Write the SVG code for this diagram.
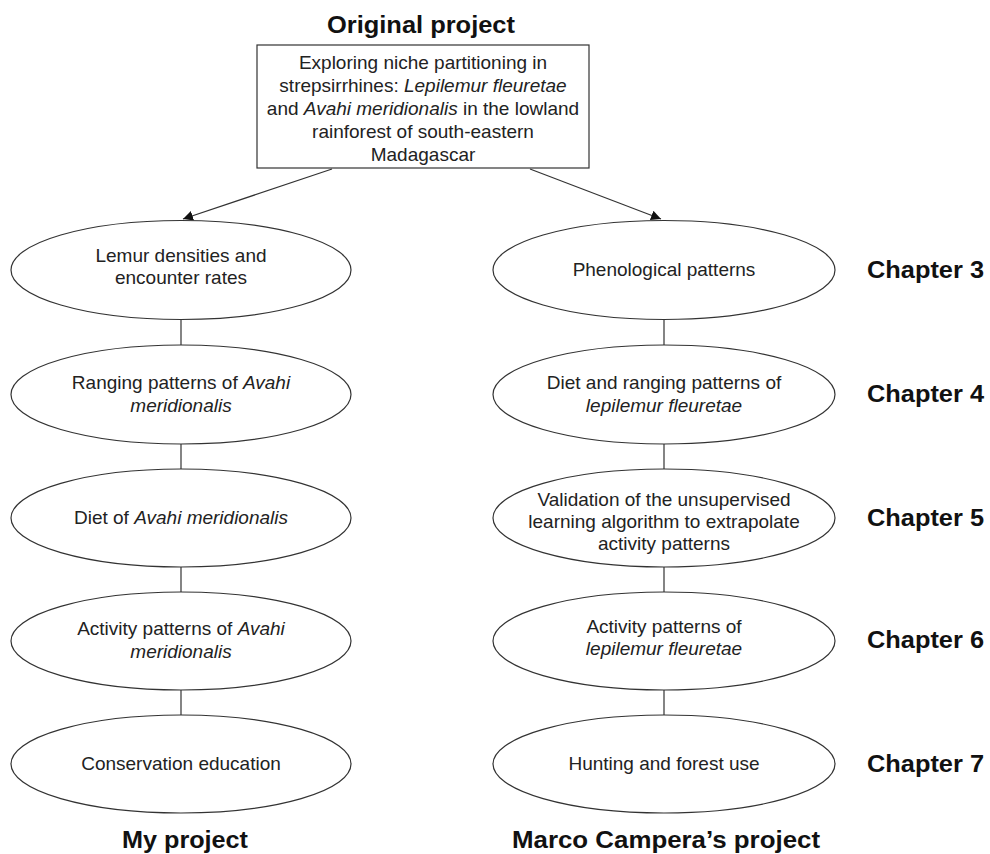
<svg xmlns="http://www.w3.org/2000/svg" width="990" height="854" viewBox="0 0 990 854">
<style>
text{font-family:"Liberation Sans",Arial,sans-serif;fill:#111}
.t{font-size:19px;text-anchor:middle;fill:#222}
.h{font-size:23px;font-weight:bold}
.i{font-style:italic}
.n{fill:#fff;stroke:#333;stroke-width:1.2}
.c{stroke:#333;stroke-width:1.2;fill:none}
</style>
<defs>
<marker id="ah" viewBox="0 0 10 10" refX="10" refY="5" markerWidth="10" markerHeight="10" markerUnits="userSpaceOnUse" orient="auto">
<path d="M0,0 L10,5 L0,10 z" fill="#111"/>
</marker>
</defs>
<rect width="990" height="854" fill="#fff"/>
<g id="connectors">
<line class="c" x1="332" y1="169" x2="183" y2="219" marker-end="url(#ah)"/>
<line class="c" x1="530" y1="169" x2="661" y2="219" marker-end="url(#ah)"/>
<line class="c" x1="181" y1="320" x2="181" y2="345"/>
<line class="c" x1="181" y1="444" x2="181" y2="469"/>
<line class="c" x1="181" y1="567" x2="181" y2="592"/>
<line class="c" x1="181" y1="690" x2="181" y2="715"/>
<line class="c" x1="664" y1="320" x2="664" y2="345"/>
<line class="c" x1="664" y1="444" x2="664" y2="469"/>
<line class="c" x1="664" y1="567" x2="664" y2="592"/>
<line class="c" x1="664" y1="690" x2="664" y2="715"/>
</g>
<g id="title"><text class="h" x="421" y="33" text-anchor="middle" textLength="188" lengthAdjust="spacingAndGlyphs">Original project</text></g>
<g id="original">
<rect class="n" x="257" y="45" width="332" height="123"/>
<text class="t" x="423" y="69">Exploring niche partitioning in</text>
<text class="t" x="423" y="92">strepsirrhines: <tspan class="i">Lepilemur fleuretae</tspan></text>
<text class="t" x="423" y="115">and <tspan class="i">Avahi meridionalis</tspan> in the lowland</text>
<text class="t" x="423" y="138">rainforest of south-eastern</text>
<text class="t" x="423" y="161">Madagascar</text>
</g>
<g id="l1"><ellipse class="n" cx="181" cy="270" rx="170" ry="49.5"/>
<text class="t" x="181" y="262">Lemur densities and</text><text class="t" x="181" y="284">encounter rates</text></g>
<g id="l2"><ellipse class="n" cx="181" cy="394.5" rx="170" ry="49.5"/>
<text class="t" x="181" y="389">Ranging patterns of <tspan class="i">Avahi</tspan></text><text class="t i" x="181" y="412">meridionalis</text></g>
<g id="l3"><ellipse class="n" cx="181" cy="518" rx="170" ry="49"/>
<text class="t" x="181" y="524">Diet of <tspan class="i">Avahi meridionalis</tspan></text></g>
<g id="l4"><ellipse class="n" cx="181" cy="641" rx="170" ry="49"/>
<text class="t" x="181" y="635">Activity patterns of <tspan class="i">Avahi</tspan></text><text class="t i" x="181" y="658">meridionalis</text></g>
<g id="l5"><ellipse class="n" cx="181" cy="764" rx="170" ry="49"/>
<text class="t" x="181" y="770">Conservation education</text></g>
<g id="r1"><ellipse class="n" cx="664" cy="270" rx="171" ry="49.5"/>
<text class="t" x="664" y="276">Phenological patterns</text></g>
<g id="r2"><ellipse class="n" cx="664" cy="394.5" rx="171" ry="49.5"/>
<text class="t" x="664" y="389">Diet and ranging patterns of</text><text class="t i" x="664" y="412">lepilemur fleuretae</text></g>
<g id="r3"><ellipse class="n" cx="664" cy="518" rx="171" ry="49"/>
<text class="t" x="664" y="506">Validation of the unsupervised</text><text class="t" x="664" y="528">learning algorithm to extrapolate</text><text class="t" x="664" y="550">activity patterns</text></g>
<g id="r4"><ellipse class="n" cx="664" cy="641" rx="171" ry="49"/>
<text class="t" x="664" y="633">Activity patterns of</text><text class="t i" x="664" y="655">lepilemur fleuretae</text></g>
<g id="r5"><ellipse class="n" cx="664" cy="764" rx="171" ry="49"/>
<text class="t" x="664" y="770">Hunting and forest use</text></g>
<g id="chapters">
<text class="h" x="867" y="278" textLength="117" lengthAdjust="spacingAndGlyphs">Chapter 3</text>
<text class="h" x="867" y="402" textLength="117" lengthAdjust="spacingAndGlyphs">Chapter 4</text>
<text class="h" x="867" y="526" textLength="117" lengthAdjust="spacingAndGlyphs">Chapter 5</text>
<text class="h" x="867" y="648" textLength="117" lengthAdjust="spacingAndGlyphs">Chapter 6</text>
<text class="h" x="867" y="772" textLength="117" lengthAdjust="spacingAndGlyphs">Chapter 7</text>
</g>
<g id="footer">
<text class="h" x="185" y="848" text-anchor="middle" textLength="126" lengthAdjust="spacingAndGlyphs">My project</text>
<text class="h" x="666" y="848" text-anchor="middle" textLength="308" lengthAdjust="spacingAndGlyphs">Marco Campera’s project</text>
</g>
</svg>
